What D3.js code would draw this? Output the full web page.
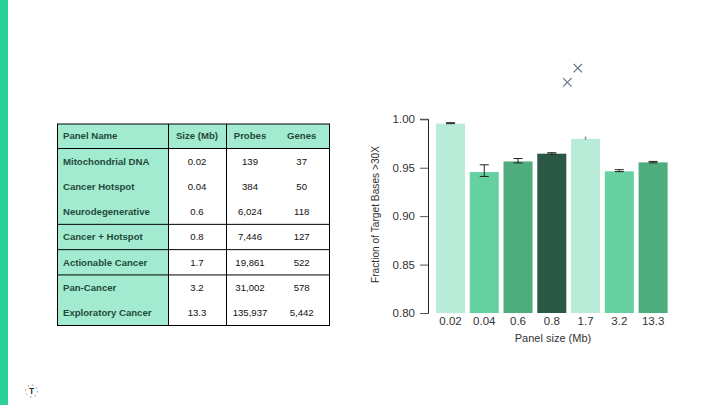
<!DOCTYPE html>
<html><head><meta charset="utf-8">
<script src="https://cdnjs.cloudflare.com/ajax/libs/d3/7.8.5/d3.min.js"></script>
<style>html,body{margin:0;padding:0;background:#fff}svg{display:block}text{font-family:"Liberation Sans",Arial,sans-serif}</style>
</head><body><svg id="c" width="720" height="405"></svg>
<script>
const panelNames=["Mitochondrial DNA","Cancer Hotspot","Neurodegenerative","Cancer + Hotspot","Actionable Cancer","Pan-Cancer","Exploratory Cancer"];
const sizes=["0.02","0.04","0.6","0.8","1.7","3.2","13.3"];
const probes=["139","384","6,024","7,446","19,861","31,002","135,937"];
const genes=["37","50","118","127","522","578","5,442"];
const headers=["Panel Name","Size (Mb)","Probes","Genes"];
const coverage=[0.9955,0.9455,0.9565,0.9645,0.9798,0.9463,0.9555];
const errLow=[0.9955,0.9410,0.9550,0.9640,0.9795,0.9460,0.9550];
const errHigh=[0.9965,0.9530,0.9595,0.9655,0.9815,0.9480,0.9565];
const barColors=["#b8ecd8","#66d1a0","#4fac7c","#2b5745","#b8ecd8","#66d1a0","#4fac7c"];
const yTicks=[0.80,0.85,0.90,0.95,1.00];
const outlierIdx=[3.77,3.46];
const outlierVal=[1.0529,1.0381];

const svg=d3.select("#c");
svg.append("rect").attr("x",0).attr("y",0).attr("width",8).attr("height",405).attr("fill","#2bd197");

// table
const teal="#a3ebd0", ink="#1f4a3a";
const L=57.5,R=329.5,T=124,H=148.5,B=325.5,C1=168.5,C2=226.5;
const rowY=d3.scaleBand().domain(d3.range(7)).range([H,B]);
svg.append("rect").attr("x",L).attr("y",T).attr("width",R-L).attr("height",H-T).attr("fill",teal);
svg.append("rect").attr("x",L).attr("y",H).attr("width",C1-L).attr("height",B-H).attr("fill",teal);
const tb=svg.append("g").attr("font-size",9.6);
const colX=[197,250,301.7];
tb.append("text").attr("x",63).attr("y",136).attr("dy","0.35em").attr("font-weight","bold").attr("fill",ink).text(headers[0]);
headers.slice(1).forEach((h,i)=>tb.append("text").attr("x",colX[i]).attr("y",136).attr("dy","0.35em").attr("text-anchor","middle").attr("font-weight","bold").attr("fill",ink).text(h));
panelNames.forEach((n,i)=>{
  const y=rowY(i)+rowY.bandwidth()/2;
  tb.append("text").attr("x",63).attr("y",y).attr("dy","0.35em").attr("font-weight","bold").attr("fill",ink).text(n);
  [sizes,probes,genes].forEach((a,j)=>tb.append("text").attr("x",colX[j]).attr("y",y).attr("dy","0.35em").attr("text-anchor","middle").attr("fill","#111").text(a[i]));
});
const line=(x1,y1,x2,y2)=>svg.append("line").attr("x1",x1).attr("y1",y1).attr("x2",x2).attr("y2",y2).attr("stroke","#000").attr("stroke-width",1);
svg.append("rect").attr("x",L).attr("y",T).attr("width",R-L).attr("height",B-T).attr("fill","none").attr("stroke","#000");
line(L,H,R,H);
[3,4,5].forEach(i=>line(L,rowY(i),R,rowY(i)));
line(C1,T,C1,B);line(C2,T,C2,B);

// chart
const y=d3.scaleLinear().domain([0.80,1.00]).range([313,119.3]);
const x=d3.scaleBand().domain(sizes).range([433.6,670]).paddingInner(0.14).paddingOuter(0.07);
const g=svg.append("g");
g.selectAll("rect.bar").data(coverage).join("rect").attr("class","bar")
 .attr("x",(d,i)=>x(sizes[i])).attr("width",x.bandwidth())
 .attr("y",d=>y(d)).attr("height",d=>y(0.80)-y(d)).attr("fill",(d,i)=>barColors[i]);
const errC=(i)=>x(sizes[i])+x.bandwidth()/2;
coverage.forEach((d,i)=>{
  const c=errC(i),w=4.5;
  const e=g.append("g").attr("stroke",i===4?"#888":"#222").attr("stroke-width",1);
  e.append("line").attr("x1",c).attr("x2",c).attr("y1",y(errLow[i])).attr("y2",y(errHigh[i]));
  const cw=i===4?1:w;
  e.append("line").attr("x1",c-cw).attr("x2",c+cw).attr("y1",y(errLow[i])).attr("y2",y(errLow[i]));
  e.append("line").attr("x1",c-cw).attr("x2",c+cw).attr("y1",y(errHigh[i])).attr("y2",y(errHigh[i]));
});
const yAxis=d3.axisLeft(y).tickValues(yTicks).tickFormat(d3.format(".2f")).tickSize(8).tickPadding(5);
const ya=svg.append("g").attr("transform","translate(428,0)").call(yAxis);
ya.select(".domain").attr("stroke","#222").attr("d",`M-8,${y(0.8)+.5}H0.5V${y(1)}H-8`);
ya.selectAll(".tick line").attr("stroke","#555");
ya.selectAll("text").attr("font-size",11.5).attr("fill","#333").attr("font-family","Liberation Sans");
const xa=svg.append("g").attr("transform",`translate(0,${y(0.8)})`).call(d3.axisBottom(x).tickSize(0).tickPadding(4));
xa.select(".domain").remove();
xa.selectAll("text").attr("font-size",11.5).attr("fill","#333").attr("font-family","Liberation Sans");
svg.append("text").attr("x",553).attr("y",342).attr("text-anchor","middle").attr("font-size",11).attr("fill","#333").text("Panel size (Mb)");
svg.append("text").attr("transform","translate(379,214.5) rotate(-90)").attr("text-anchor","middle").attr("font-size",10.2).attr("fill","#333").text("Fraction of Target Bases >30X");

// outliers on the same scales
const xi=d3.scaleLinear().domain([0,6]).range([errC(0),errC(6)]);
outlierVal.forEach((v,i)=>{
  const cx=xi(outlierIdx[i]),cy=y(v),r=4.2;
  const m=svg.append("g").attr("stroke","#5b6b7e").attr("stroke-width",1.1);
  m.append("line").attr("x1",cx-r).attr("y1",cy-r).attr("x2",cx+r).attr("y2",cy+r);
  m.append("line").attr("x1",cx-r).attr("y1",cy+r).attr("x2",cx+r).attr("y2",cy-r);
});

// logo
const logo=svg.append("g").attr("transform","translate(31.5,391)");
logo.append("circle").attr("r",6).attr("fill","none").attr("stroke","#888").attr("stroke-width",1).attr("stroke-dasharray","1.5 3.2");
logo.append("text").attr("text-anchor","middle").attr("y",3.2).attr("font-size",8.5).attr("font-weight","bold").attr("fill","#333").text("T");
</script></body></html>
